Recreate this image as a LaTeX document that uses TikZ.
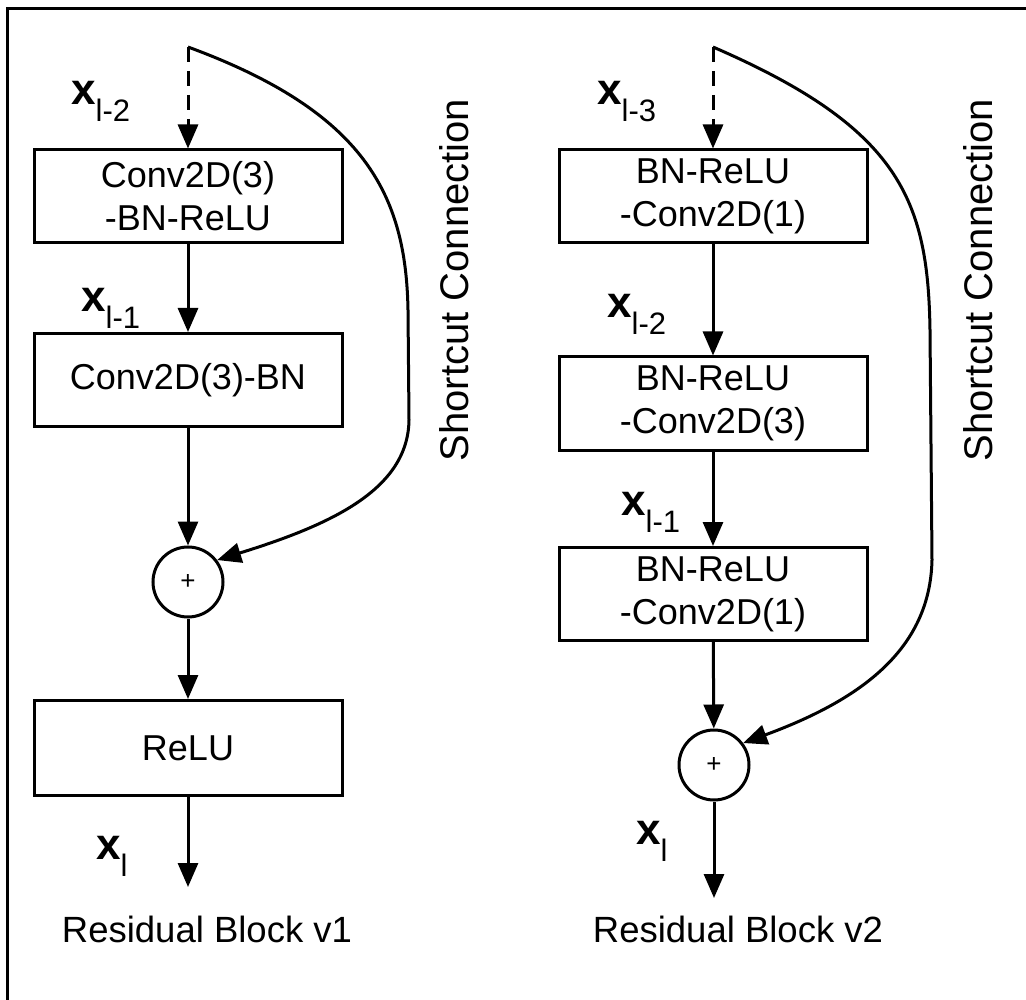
\documentclass[tikz,border=0pt]{standalone}
\usepackage{fontspec}
\setmainfont{Liberation Sans}
\usetikzlibrary{arrows.meta}
\begin{document}
\begin{tikzpicture}[x=1pt,y=-1pt,
  blk/.style={draw,line width=3pt,minimum width=308pt,minimum height=93pt,align=center,inner sep=0pt,
    font=\fontsize{36}{43}\selectfont},
  sumnode/.style={draw,circle,line width=3pt,minimum size=70pt,inner sep=0pt,font=\fontsize{26}{26}\selectfont},
  conn/.style={line width=3pt,-{Triangle[length=24pt,width=20pt]}},
  dconn/.style={conn,dash pattern=on 15pt off 9pt},
  lbl/.style={inner sep=0pt,anchor=base west},
  ttl/.style={inner sep=0pt,anchor=base,font=\fontsize{36.5}{40}\selectfont},
  sc/.style={rotate=90,inner sep=0pt,font=\fontsize{40}{42}\selectfont}]
\newcommand{\xv}[1]{{\fontsize{44}{44}\selectfont\bfseries x}\raisebox{-17pt}{\fontsize{31}{31}\selectfont #1}}
\useasboundingbox (0,0) rectangle (1026,1000);
\draw[line width=3pt] (7,1000) -- (7,9) -- (1026,9);

% ---- left block
\coordinate (t1) at (188,47);
\node[blk] (a1) at (188,196.5) {Conv2D(3)\\-BN-ReLU};
\node[blk] (a2) at (188,380) {Conv2D(3)-BN};
\node[sumnode] (p1) at (188,582) {+};
\node[blk,minimum height=95pt] (a3) at (188,748) {ReLU};
\coordinate (o1) at (188,887);
\draw[dconn] (t1) -- (a1);
\draw[conn] (a1) -- (a2);
\draw[conn] (a2) -- (p1);
\draw[conn] (p1) -- (a3);
\draw[conn] (a3) -- (o1);
\draw[conn] (t1) .. controls (365,112) and (406,195) .. (408,310)
  -- (409,420) .. controls (408,490) and (330,525) .. (p1.37);
\node[sc] (s1) at (454,280) {Shortcut Connection};
\node[lbl] (xa1) at (71,105) {\xv{l-2}};
\node[lbl] (xa2) at (81,312) {\xv{l-1}};
\node[lbl] (xa3) at (96,859) {\xv{l}};
\node[ttl] (r1) at (207,942) {Residual Block v1};

% ---- right block
\coordinate (t2) at (713,47);
\node[blk] (c1) at (713,196.5) {BN-ReLU\\-Conv2D(1)};
\node[blk] (c2) at (713,403.5) {BN-ReLU\\-Conv2D(3)};
\node[blk] (c3) at (713,594) {BN-ReLU\\-Conv2D(1)};
\node[sumnode] (p2) at (714,765) {+};
\coordinate (o2) at (714,898);
\draw[dconn] (t2) -- (c1);
\draw[conn] (c1) -- (c2);
\draw[conn] (c2) -- (c3);
\draw[conn] (c3) -- (p2);
\draw[conn] (p2) -- (o2);
\draw[conn] (t2) .. controls (900,128) and (928,200) .. (930,330)
  -- (932,560) .. controls (930,650) and (860,700) .. (p2.37);
\node[sc] (s2) at (978,280) {Shortcut Connection};
\node[lbl] (xb1) at (597,105) {\xv{l-3}};
\node[lbl] (xb2) at (607,318) {\xv{l-2}};
\node[lbl] (xb3) at (621,515) {\xv{l-1}};
\node[lbl] (xb4) at (636,844) {\xv{l}};
\node[ttl] (r2) at (738,942) {Residual Block v2};
\end{tikzpicture}
\end{document}
